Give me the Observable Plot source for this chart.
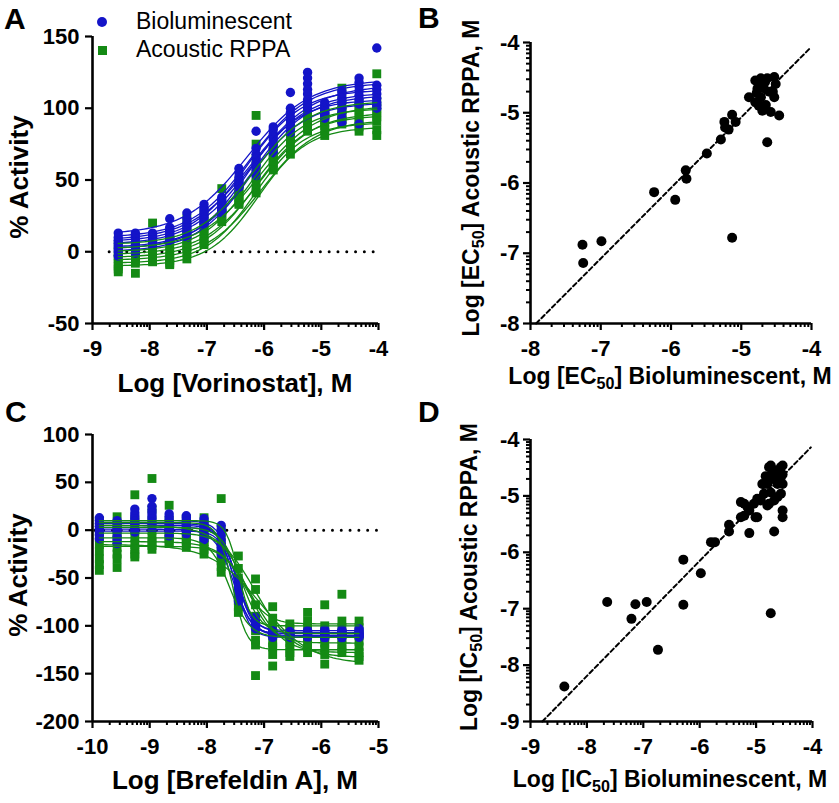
<!DOCTYPE html>
<html><head><meta charset="utf-8">
<script src="https://cdn.jsdelivr.net/npm/d3@7"></script>
<script src="https://cdn.jsdelivr.net/npm/@observablehq/plot@0.6"></script>
<style>
body{margin:0;background:#fff;}
#wrap{position:relative;width:839px;height:803px;background:#fff;overflow:hidden;color:#000}
.sub{font-size:0.7em;position:relative;top:0.28em}
svg text{font-weight:bold}
</style></head><body><div id="wrap"></div>
<script>
// ---------- Panel A: Vorinostat dose response ----------
const concA = [-8.55,-8.25,-7.95,-7.65,-7.35,-7.05,-6.74,-6.44,-6.14,-5.84,-5.54,-5.24,-4.94,-4.64,-4.34,-4.03];
const bioA = [
  [13,10,8,6,4,2,0,-3],[13,11,9,7,5,3,1,-1],[13,12,10,9,8,7,6,5],[23,17,15,13,11,10,9,8],
  [27,23,20,18,16,14,12,10],[33,30,28,26,24,22,20,19],[38,36,34,32,30,29,28,27],[58,55,52,50,48,47,46,45],
  [84,72,68,65,62,60,57,53],[87,85,82,80,78,75,72,69],[111,100,97,94,92,89,86,83],[125,121,117,113,110,106,103,100],
  [104,102,100,98,97,96,95,93],[112,110,107,104,100,97,93,90],[121,118,115,112,109,106,103,89],[142,116,113,110,107,104,102,100]
];
const rppaA = [
  [5,0,-3,-5,-8,-10,-12,-14],[2,0,-2,-4,-6,-8,-15,-3],[20,8,4,1,-2,-4,-6,-7],[12,8,4,0,-3,-6,-8,-9],
  [23,16,12,8,5,3,0,-5],[28,22,18,15,12,9,7,5],[44,34,31,29,27,25,23,21],[47,45,42,40,38,36,34,33],
  [95,75,65,58,52,48,44,41],[73,70,68,66,64,62,60,57],[91,88,84,81,78,75,71,68],[103,99,96,93,90,88,86,84],
  [99,96,94,92,90,88,85,81],[114,106,102,99,96,94,92,89],[104,101,99,96,93,90,87,84],[124,105,100,97,94,91,85,81]
];
// curve parameters: [left plateau, right plateau, logEC50, slope]
const bioCurvesA = [[12,120,-6.30,0.8],[10,118,-6.25,0.85],[8,116,-6.20,0.8],[7,113,-6.30,0.9],[5,111,-6.25,0.85],[3,109,-6.20,0.9],[2,106,-6.30,0.95],[0,104,-6.25,0.9]];
const rppaCurvesA = [[5,105,-6.20,0.9],[2,102,-6.10,0.85],[0,100,-6.20,0.95],[-2,97,-6.10,0.9],[-4,95,-6.15,0.95],[-6,92,-6.05,0.9],[-8,90,-6.15,1.0],[-10,87,-6.10,1.0]];
const zeroSpanA = [-8.7, -4.0];

// ---------- Panel C: Brefeldin A dose response ----------
const concC = [-9.88,-9.57,-9.26,-8.96,-8.66,-8.36,-8.05,-7.75,-7.45,-7.15,-6.85,-6.55,-6.24,-5.94,-5.64,-5.34];
const bioC = [
  [13,10,7,4,1,-2,-5,-9],[10,7,4,1,-3,-7,-10,-14],[22,18,15,12,9,6,2,-2],[33,25,21,18,15,12,8,5],
  [17,14,11,8,5,2,-2,-6],[15,13,10,8,6,3,0,-4],[12,9,6,3,0,-4,-7,-10],[5,0,-5,-10,-14,-18,-22,-25],
  [-52,-56,-60,-64,-67,-70,-72,-74],[-91,-94,-97,-99,-100,-101,-102,-103],[-105,-106,-107,-108,-109,-110,-111,-112],[-106,-107,-108,-109,-110,-110,-111,-112],
  [-105,-106,-107,-108,-109,-110,-111,-112],[-104,-106,-107,-108,-109,-110,-112,-113],[-104,-106,-107,-108,-109,-110,-111,-113],[-103,-105,-107,-108,-109,-110,-111,-112]
];
const rppaC = [
  [10,0,-8,-15,-22,-30,-36,-42],[14,5,-3,-10,-18,-25,-30,-39],[37,10,0,-8,-15,-20,-25,-28],[54,22,10,0,-8,-12,-16,-20],
  [26,10,3,-2,-6,-9,-12,-14],[12,5,0,-4,-8,-11,-14,-18],[13,5,-2,-8,-12,-16,-20,-25],[33,0,-10,-18,-25,-32,-38,-44],
  [-27,-40,-50,-58,-66,-74,-80,-86],[-51,-62,-78,-90,-105,-115,-120,-152],[-80,-92,-100,-110,-118,-122,-130,-142],[-98,-103,-108,-113,-118,-123,-128,-132],
  [-86,-95,-102,-108,-113,-118,-123,-128],[-78,-100,-106,-112,-118,-124,-130,-140],[-67,-95,-102,-108,-114,-120,-124,-128],[-95,-102,-110,-116,-122,-128,-132,-136]
];
const bioCurvesC = [[10,-105,-7.50,3.0],[7,-107,-7.48,2.8],[5,-108,-7.52,3.2],[3,-110,-7.47,3.0],[1,-111,-7.53,2.6],[-1,-112,-7.50,3.4]];
const rppaCurvesC = [[10,-100,-7.45,4.0],[8,-125,-7.55,3.5],[3,-108,-7.40,2.5],[-3,-118,-7.30,2.0],[-8,-112,-7.60,2.5],[-12,-128,-7.20,1.6],[-15,-140,-7.05,1.0],[-17,-98,-7.35,2.2],[5,-133,-7.15,1.3]];
const zeroSpanC = [-9.95, -5.0];

// ---------- Panel B: EC50 comparison ----------
const bioEC50 = [-7.26,-7.25,-6.99,-6.24,-5.94,-5.79,-5.78,-5.49,-5.29,-5.24,-5.23,-5.18,-5.13,-5.08,-5.13,-4.89,-4.80,-4.72,-4.63,-4.53,-4.51,-4.77,-4.72,-4.53,-4.65,-4.70,-4.58,-4.46,-4.80,-4.63,-4.75,-4.68,-4.60,-4.75,-4.55,-4.66,-4.78];
const rppaEC50 = [-6.88,-7.14,-6.83,-6.13,-6.24,-5.82,-5.94,-5.58,-5.38,-5.13,-5.21,-5.24,-5.03,-5.13,-6.78,-4.78,-4.54,-4.51,-4.51,-4.49,-4.59,-4.66,-4.78,-4.78,-4.89,-4.97,-4.99,-5.04,-4.85,-5.42,-4.60,-4.65,-4.70,-4.90,-4.70,-4.56,-4.72];
const diagB = {x: [-7.92, -4.01], y: [-8.0, -4.07]};

// ---------- Panel D: IC50 comparison ----------
const bioIC50 = [-8.40,-7.64,-7.21,-7.14,-6.94,-6.74,-6.29,-6.29,-5.98,-5.80,-5.73,-5.48,-5.48,-5.12,-4.74,-4.68,
  -4.77,-4.56,-4.74,-4.56,-4.80,-4.62,-4.89,-4.74,-4.56,-4.92,-4.68,-5.04,-5.21,-5.21,-5.01,-5.27,-4.77,-4.53,-4.53,-4.86,
  -4.98,-5.27,-4.92,-4.86,-4.74,-4.53,-4.53,-4.62,-4.80,-5.12,-4.65,-4.70,-4.60,-4.83,-4.53,-4.98,-5.15];
const rppaIC50 = [-8.38,-6.88,-7.18,-6.92,-6.88,-7.73,-6.13,-6.93,-6.37,-5.82,-5.82,-5.51,-5.63,-5.66,-7.08,-5.63,
  -4.49,-4.49,-4.64,-4.67,-4.79,-4.79,-4.79,-4.94,-4.96,-5.08,-5.08,-5.14,-5.14,-5.35,-5.38,-5.11,-5.14,-5.26,-5.38,-4.96,
  -5.38,-5.38,-5.05,-4.79,-4.46,-4.46,-4.79,-5.02,-5.17,-5.26,-4.55,-4.70,-4.60,-4.65,-4.62,-5.05,-5.20];
const diagD = {x: [-8.79, -4.03], y: [-9.0, -4.14]};

// ---------- tick labels ----------
const ticksAx = [-9,-8,-7,-6,-5,-4], ticksAy = [-50,0,50,100,150];
const ticksCx = [-10,-9,-8,-7,-6,-5], ticksCy = [-200,-150,-100,-50,0,50,100];
const ticksB = [-8,-7,-6,-5,-4];
const ticksD = [-9,-8,-7,-6,-5,-4];

// ---------- styling ----------
const FONT = '"Liberation Sans", Arial, Helvetica, sans-serif';
const BLUE = "#1414c8", GREEN = "#148a14";
const fmt = d => (d < 0 ? "-" : "") + Math.abs(d);
const minor = decades => decades.flatMap(d => d3.range(2, 10).map(k => d + Math.log10(k)));

function flat(conc, vals) { return conc.flatMap((x, i) => vals[i].map(y => ({x, y}))); }
function curves(params, x0, x1) {
  return params.flatMap(([L, R, ec, s], id) =>
    d3.range(0, 81).map(i => { const x = x0 + (x1 - x0) * i / 80; return {id, x, y: R + (L - R) / (1 + Math.pow(10, (x - ec) * s))}; }));
}
function axes(o) {
  return [
    Plot.axisX({ticks: o.xMajor, tickSize: 7, tickPadding: 10, tickFormat: fmt, fontSize: 22, fontWeight: "bold", stroke: "black", strokeWidth: 2.2, label: null}),
    o.xMinor ? Plot.axisX({ticks: o.xMinor, tickSize: 4, fill: "none", stroke: "black", strokeWidth: 2, label: null}) : null,
    Plot.axisY({ticks: o.yMajor, tickSize: 7, tickPadding: o.yPad, tickFormat: fmt, fontSize: 22, fontWeight: "bold", stroke: "black", strokeWidth: 2.2, label: null}),
    o.yMinor ? Plot.axisY({ticks: o.yMinor, tickSize: 4, fill: "none", stroke: "black", strokeWidth: 2, label: null}) : null,
    Plot.ruleX([o.xDomain[0]], {stroke: "black", strokeWidth: 2.6}),
    Plot.ruleY([o.yDomain[0]], {stroke: "black", strokeWidth: 2.6})
  ];
}
const baseStyle = {fontFamily: FONT, fontSize: "22px", fontWeight: "bold", background: "transparent", color: "black", overflow: "visible"};

function doseResponse(o) {
  return Plot.plot({
    width: 420, height: o.height, marginLeft: 92, marginRight: 42, marginTop: o.mt, marginBottom: o.mb,
    x: {domain: o.xDomain}, y: {domain: o.yDomain}, style: baseStyle,
    marks: [
      Plot.ruleY([0], {x1: o.zero[0], x2: o.zero[1], stroke: "black", strokeWidth: 3, strokeDasharray: "0,8.8", strokeLinecap: "round"}),
      Plot.dot(flat(o.conc, o.rppa), {x: "x", y: "y", symbol: "square", r: 5, fill: GREEN}),
      Plot.dot(flat(o.conc, o.bio), {x: "x", y: "y", symbol: "circle", r: 4.7, fill: BLUE}),
      Plot.line(curves(o.bioCurves, o.conc[0], o.conc[o.conc.length - 1]), {x: "x", y: "y", z: "id", stroke: BLUE, strokeWidth: 1.3}),
      Plot.line(curves(o.rppaCurves, o.conc[0], o.conc[o.conc.length - 1]), {x: "x", y: "y", z: "id", stroke: GREEN, strokeWidth: 1.3}),
      ...axes({xDomain: o.xDomain, yDomain: o.yDomain, xMajor: o.xTicks, yMajor: o.yTicks, xMinor: minor(o.xTicks.slice(0, -1)), yPad: 6})
    ]
  });
}
function comparison(o) {
  const pts = o.bio.map((x, i) => ({x, y: o.rppa[i]}));
  const diag = o.diag.x.map((x, i) => ({x, y: o.diag.y[i]}));
  return Plot.plot({
    width: 419, height: o.height, marginLeft: 110, marginRight: o.mr, marginTop: o.mt, marginBottom: o.mb,
    x: {domain: o.domain}, y: {domain: o.domain}, style: baseStyle,
    marks: [
      Plot.line(diag, {x: "x", y: "y", stroke: "black", strokeWidth: 2, strokeDasharray: "4.5,3"}),
      Plot.dot(pts, {x: "x", y: "y", r: 5, fill: "black"}),
      ...axes({xDomain: o.domain, yDomain: o.domain, xMajor: o.ticks, yMajor: o.ticks, xMinor: minor(o.ticks.slice(0, -1)), yMinor: minor(o.ticks.slice(0, -1)), yPad: 4})
    ]
  });
}

const wrap = document.getElementById("wrap");
function put(el, left, top) { el.style.position = "absolute"; el.style.left = left + "px"; el.style.top = top + "px"; wrap.appendChild(el); }

put(doseResponse({height: 400, mt: 36, mb: 77, xDomain: [-9, -4], yDomain: [-50, 150], xTicks: ticksAx, yTicks: ticksAy,
  conc: concA, bio: bioA, rppa: rppaA, bioCurves: bioCurvesA, rppaCurves: rppaCurvesA, zero: zeroSpanA}), 0, 0);
put(comparison({height: 400, mt: 42, mb: 77, mr: 28, domain: [-8, -4], ticks: ticksB, bio: bioEC50, rppa: rppaEC50, diag: diagB}), 420, 0);
put(doseResponse({height: 403, mt: 34, mb: 82, xDomain: [-10, -5], yDomain: [-200, 100], xTicks: ticksCx, yTicks: ticksCy,
  conc: concC, bio: bioC, rppa: rppaC, bioCurves: bioCurvesC, rppaCurves: rppaCurvesC, zero: zeroSpanC}), 0, 400);
put(comparison({height: 403, mt: 39, mb: 82, mr: 27, domain: [-9, -4], ticks: ticksD, bio: bioIC50, rppa: rppaIC50, diag: diagD}), 420, 400);

// ---------- text overlays ----------
function label(html, o) {
  const d = document.createElement("div");
  d.innerHTML = html;
  Object.assign(d.style, {position: "absolute", whiteSpace: "nowrap", lineHeight: "1.1", fontFamily: FONT,
    fontSize: o.size + "px", fontWeight: o.weight || "bold", left: o.left + "px", top: o.top + "px", transform: o.tf || ""});
  wrap.appendChild(d);
}
const TX = "translateX(-50%)", ROT = "translate(-50%,-50%) rotate(-90deg)";
label("A", {size: 30, left: 4, top: 2});
label("B", {size: 30, left: 418, top: 1});
label("C", {size: 30, left: 5, top: 395});
label("D", {size: 30, left: 418, top: 395});
label("Log [Vorinostat], M", {size: 26, left: 235, top: 369, tf: TX});
label("% Activity", {size: 26, left: 19, top: 177, tf: ROT});
label('Log [EC<span class="sub">50</span>] Bioluminescent, M', {size: 23, left: 670, top: 364, tf: TX});
label('Log [EC<span class="sub">50</span>] Acoustic RPPA, M', {size: 23, left: 472, top: 178, tf: ROT});
label("Log [Brefeldin A], M", {size: 26, left: 235, top: 766, tf: TX});
label("% Activity", {size: 26, left: 18, top: 575, tf: ROT});
label('Log [IC<span class="sub">50</span>] Bioluminescent, M', {size: 23, left: 670, top: 767, tf: TX});
label('Log [IC<span class="sub">50</span>] Acoustic RPPA, M', {size: 23, left: 470, top: 577, tf: ROT});

// legend
const seriesNames = ["Bioluminescent", "Acoustic RPPA"];
function swatch(color, round, left, top, size) {
  const s = document.createElement("div");
  Object.assign(s.style, {position: "absolute", left: left + "px", top: top + "px", width: size + "px", height: size + "px", background: color, borderRadius: round ? "50%" : "0"});
  wrap.appendChild(s);
}
swatch(BLUE, true, 97.3, 17, 10);
swatch(GREEN, false, 97.5, 45.5, 9);
label(seriesNames[0], {size: 23, weight: "normal", left: 136, top: 9});
label(seriesNames[1], {size: 23, weight: "normal", left: 136, top: 37});
</script></body></html>
